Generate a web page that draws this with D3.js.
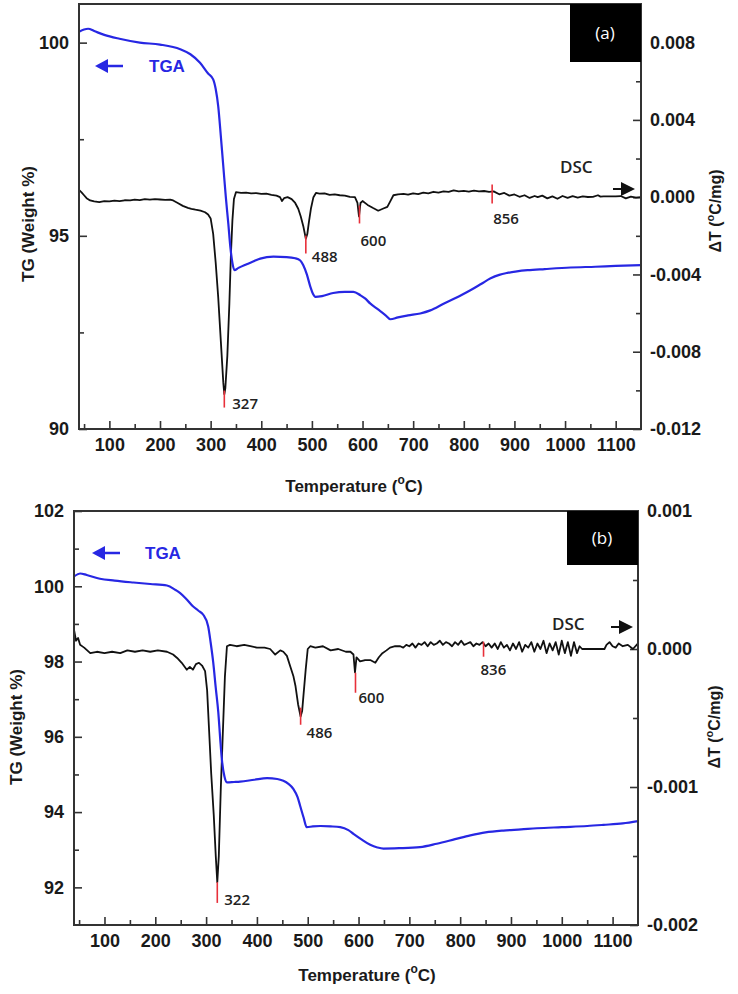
<!DOCTYPE html>
<html>
<head>
<meta charset="utf-8">
<script src="https://cdn.jsdelivr.net/npm/d3@7"></script>
<style>
  body { margin: 0; background: #fff; }
  svg { display: block; }
  .tick text { font-family: "Liberation Sans", Arial, sans-serif; font-weight: bold; font-size: 18px; fill: #1a1a1a; }
  .tick line { stroke: #333; stroke-width: 1.6; }
  .ttl { font-family: "Liberation Sans", Arial, sans-serif; font-weight: bold; fill: #1a1a1a; }
  .note { font-family: "Open Sans", sans-serif; font-weight: 600; fill: #222; }
</style>
</head>
<body>
<script>
// --- panel (a) data ---
const tgaA = [[40,100.28],[50,100.34],[58,100.36],[70,100.3],[90,100.2],[120,100.1],[160,100.0],[200,99.95],[240,99.83],[260,99.7],[279,99.48],[295,99.2],[305,99.05],[310,98.8],[315,98.35],[320,97.6],[325,96.8],[330,96.0],[335,95.3],[339,94.7],[343,94.3],[347,94.11],[355,94.17],[370,94.26],[385,94.34],[398,94.41],[424,94.46],[450,94.45],[467,94.42],[477,94.36],[483,94.24],[490,94.0],[497,93.68],[502,93.5],[507,93.42],[520,93.44],[542,93.52],[565,93.55],[582,93.55],[596,93.46],[605,93.38],[615,93.25],[630,93.1],[645,92.95],[655,92.84],[670,92.89],[690,92.94],[714,92.99],[734,93.07],[760,93.24],[790,93.43],[813,93.59],[835,93.76],[853,93.9],[870,93.99],[886,94.04],[905,94.08],[926,94.11],[960,94.14],[1011,94.18],[1060,94.2],[1100,94.22],[1150,94.24]];

const dscA = [[40,0.00038],[45,0.00025],[50,0.0001],[55,-0.00005],[62,-0.00017],[70,-0.00022],[80,-0.00026],[90,-0.0002],[100,-0.00022],[110,-0.00018],[120,-0.0002],[130,-0.00016],[141,-0.00017],[150,-0.00013],[160,-0.00015],[170,-0.0001],[180,-0.00013],[190,-0.0001],[200,-0.00012],[210,-0.00014],[220,-0.00013],[226,-0.00017],[235,-0.0003],[245,-0.00045],[255,-0.00055],[262,-0.0006],[270,-0.00065],[280,-0.0007],[289,-0.00078],[295,-0.0009],[300,-0.0011],[305,-0.0019],[310,-0.0034],[315,-0.0052],[320,-0.0074],[325,-0.0096],[327,-0.0102],[329,-0.0099],[333,-0.0082],[337,-0.0055],[340,-0.003],[343,-0.0012],[346,-0.0001],[350,0.00026],[360,0.00022],[370,0.00024],[380,0.0002],[390,0.00021],[400,0.00017],[410,0.00018],[420,0.00012],[430,0.00008],[437,0.0],[441,-0.0002],[445,-0.00005],[452,0.0],[460,-0.0001],[467,-0.0003],[473,-0.0006],[478,-0.001],[483,-0.0015],[488,-0.00215],[491,-0.0019],[494,-0.0013],[498,-0.0006],[503,0.0],[508,0.00022],[515,0.00018],[525,0.0002],[535,0.00012],[545,0.00015],[555,0.0001],[565,0.00008],[575,0.00002],[585,0.0],[590,-0.0003],[593,-0.001],[596,-0.0003],[600,-0.0002],[610,-0.0004],[620,-0.00055],[631,-0.0007],[640,-0.0006],[649,-0.0005],[655,-0.0002],[661,0.0001],[670,0.00015],[681,0.00017],[690,0.00013],[700,0.0002],[710,0.00016],[720,0.00024],[730,0.0002],[740,0.00028],[750,0.00024],[760,0.0003],[770,0.00027],[780,0.00035],[790,0.0003],[800,0.00033],[810,0.00029],[820,0.00034],[830,0.0003],[840,0.00032],[850,0.00028],[859,0.0003],[870,0.00015],[880,0.00022],[890,0.00008],[900,0.00014],[910,0.00002],[920,0.0001],[930,-0.00004],[940,0.00006],[946,0.0],[955,0.00008],[965,-0.00006],[975,0.00004],[985,-0.00008],[995,0.00006],[1005,-0.00004],[1015,0.00005],[1025,-0.00002],[1035,0.00004],[1045,0.00001],[1055,0.00002],[1065,0.0001],[1070,0.00003],[1076,0.00004],[1090,0.00004],[1100,0.00004],[1110,0.00006],[1120,-0.00006],[1130,0.00003],[1140,-0.00002],[1150,0.0]];

// peak marks: position, label, red tick top / bottom (dT units)
const peaksA = [[327,"327",-0.01001,-0.01089],[488,"488",-0.00198,-0.00291],[594,"600",-0.00043,-0.00136],[856,"856",0.00066,-0.00033]];
const tgTicksA = [90,95,100], tgMinorA = [92.5,97.5];
const dtTicksA = [-0.012,-0.008,-0.004,0,0.004,0.008], dtMinorA = [-0.010,-0.006,-0.002,0.002,0.006];

// --- panel (b) data ---
const tgaB = [[40,100.26],[52,100.34],[65,100.3],[91,100.2],[120,100.15],[157,100.1],[190,100.06],[223,100.02],[240,99.9],[249,99.82],[262,99.65],[274,99.47],[285,99.35],[294,99.25],[304,98.94],[309,98.5],[314,97.98],[319,97.3],[324,96.65],[328,95.9],[331,95.4],[336,94.95],[341,94.79],[355,94.8],[367,94.81],[395,94.86],[420,94.9],[440,94.88],[452,94.83],[462,94.75],[472,94.61],[480,94.4],[485,94.17],[492,93.85],[498,93.6],[510,93.62],[525,93.63],[545,93.62],[564,93.6],[580,93.52],[590,93.42],[605,93.28],[623,93.13],[637,93.06],[649,93.03],[680,93.04],[721,93.07],[754,93.16],[790,93.28],[820,93.38],[850,93.46],[885,93.51],[920,93.54],[951,93.57],[1000,93.6],[1050,93.63],[1082,93.66],[1120,93.7],[1150,93.76]];

const dscB = [[40,0.00014],[44,0.00006],[48,0.00008],[52,0.00003],[60,0.00001],[72,-0.00003],[85,-0.00002],[100,-0.00003],[115,-0.00002],[131,-0.00003],[145,-0.00001],[160,-0.00002],[175,-0.00001],[190,-0.00002],[205,-0.00001],[223,-0.00002],[235,-0.00004],[243,-0.000065],[252,-0.0001],[262,-0.00015],[268,-0.00013],[274,-0.00015],[280,-0.00011],[286,-0.0001],[292,-0.00012],[298,-0.00016],[302,-0.0003],[306,-0.0006],[310,-0.0009],[315,-0.0012],[319,-0.0015],[322,-0.00169],[325,-0.0015],[329,-0.001],[333,-0.0006],[337,-0.0002],[341,0.00002],[347,0.00003],[360,0.00002],[375,0.00003],[387,0.00002],[400,0.00001],[415,0.00001],[426,0.0],[436,-0.00004],[446,-0.00001],[452,-0.00002],[459,-0.00005],[466,-0.00013],[472,-0.0002],[476,-0.00027],[481,-0.0004],[486,-0.00049],[489,-0.00045],[492,-0.00032],[496,-0.00015],[500,0.0],[505,0.00002],[515,0.00001],[530,0.00002],[545,-0.00001],[560,0.0],[575,-0.00002],[584,-0.00002],[590,-0.00004],[593,-0.00017],[596,-0.00006],[603,-0.00009],[613,-0.00008],[623,-0.00008],[633,-0.0001],[640,-0.00006],[647,-0.00003],[655,-0.00001],[662,0.00001],[672,0.00002],[682,0.00002],[688,0.00001],[694,0.00003],[700,0.00002],[706,0.00004],[712,0.00001],[718,0.00004],[724,0.00003],[730,0.00005],[736,0.00002],[742,0.00005],[748,0.00003],[754,0.00004],[760,0.00006],[766,0.00003],[772,0.00005],[778,0.00004],[784,0.00002],[790,0.00005],[796,0.00003],[802,0.00006],[808,0.00003],[814,0.00004],[820,0.00005],[826,0.00002],[832,0.00004],[838,0.00003],[844,0.00005],[850,0.00002],[856,0.00004],[862,0.00001],[868,0.00004],[874,0.0],[880,0.00005],[886,0.00001],[892,0.00003],[898,-0.00001],[904,0.00004],[910,0.0],[916,0.00005],[922,-0.00002],[928,0.00003],[934,0.00001],[940,0.00005],[946,-0.00002],[952,0.00004],[958,0.0],[964,0.00006],[970,-0.00003],[976,0.00004],[982,-0.00001],[988,0.00005],[994,-0.00004],[1000,0.00006],[1006,-0.00003],[1012,0.00005],[1018,-0.00005],[1024,0.00005],[1030,-0.00003],[1035,0.00002],[1040,0.0],[1062,0.0],[1084,0.0],[1088,0.00003],[1094,0.00005],[1100,0.00002],[1106,0.00001],[1112,0.00004],[1120,0.00002],[1130,0.00003],[1140,0.0],[1150,0.00004]];

const peaksB = [[322,"322",-0.00169,-0.00184],[486,"486",-0.000425,-0.000549],[594,"600",-0.000172,-0.000317],[846,"836",0.000053,-0.000056]];
const tgTicksB = [92,94,96,98,100,102], tgMinorB = [93,95,97,99,101];
const dtTicksB = [-0.002,-0.001,0,0.001], dtMinorB = [-0.0015,-0.0005,0.0005];

const tempTicks = [100,200,300,400,500,600,700,800,900,1000,1100];
const tempMinor = [50,150,250,350,450,550,650,750,850,950,1050];

const svg = d3.select("body").append("svg").attr("width", 738).attr("height", 994);
svg.append("rect").attr("width", 738).attr("height", 994).attr("fill", "#fff");

const drawPanel = (p) => {
  const w = p.right - p.left, h = p.bottom - p.top;
  const g = svg.append("g").attr("transform", "translate(" + p.left + "," + p.top + ")");

  const x = d3.scaleLinear().domain([40, 1150]).range([0, w]);
  const yL = d3.scaleLinear().domain(p.tgDomain).range([h, 0]);
  const yR = d3.scaleLinear().domain(p.dtDomain).range([h, 0]);

  const fmt = (d) => d.toFixed(3);

  //major + minor ticks, all pointing inward
  const ax = (gen, tr) => {
    const a = g.append("g").attr("transform", tr).call(gen);
    a.select(".domain").remove();
    return a;
  };
  ax(d3.axisBottom(x).tickValues(tempTicks).tickSize(-8).tickPadding(9).tickFormat(d3.format("d")), "translate(0," + h + ")");
  ax(d3.axisBottom(x).tickValues(tempMinor).tickSize(-5).tickFormat(""), "translate(0," + h + ")");
  ax(d3.axisLeft(yL).tickValues(p.tgTicks).tickSize(-8).tickPadding(10).tickFormat(d3.format("d")), "translate(0,0)");
  ax(d3.axisLeft(yL).tickValues(p.tgMinor).tickSize(-5).tickFormat(""), "translate(0,0)");
  ax(d3.axisRight(yR).tickValues(p.dtTicks).tickSize(-8).tickPadding(9).tickFormat(fmt), "translate(" + w + ",0)");
  ax(d3.axisRight(yR).tickValues(p.dtMinor).tickSize(-5).tickFormat(""), "translate(" + w + ",0)");

  g.append("defs").append("clipPath").attr("id", "clip" + p.name)
    .append("rect").attr("width", w).attr("height", h);

  const plot = g.append("g").attr("clip-path", "url(#clip" + p.name + ")");

  plot.append("path").datum(p.dsc)
    .attr("fill", "none").attr("stroke", "#111").attr("stroke-width", 1.8)
    .attr("stroke-linejoin", "round")
    .attr("d", d3.line().x(d => x(d[0])).y(d => yR(d[1])));

  plot.append("path").datum(p.tga)
    .attr("fill", "none").attr("stroke", "#2727e3").attr("stroke-width", 2.2)
    .attr("d", d3.line().curve(d3.curveMonotoneX).x(d => x(d[0])).y(d => yL(d[1])));

  //red peak markers
  plot.selectAll(".pk").data(p.peaks).join("line")
    .attr("x1", d => x(d[0])).attr("x2", d => x(d[0]))
    .attr("y1", d => yR(d[2])).attr("y2", d => yR(d[3]))
    .attr("stroke", "#e8303a").attr("stroke-width", 1.6);

  g.selectAll(".pkl").data(p.peaks).join("text")
    .attr("class", "note").attr("font-size", 15)
    .attr("x", (d, i) => x(d[0]) + p.peakOff[i][0])
    .attr("y", (d, i) => yR(d[3]) + p.peakOff[i][1])
    .text(d => d[1]);

  //frame
  g.append("rect").attr("width", w).attr("height", h)
    .attr("fill", "none").attr("stroke", "#333").attr("stroke-width", 2);

  //panel tag
  g.append("rect").attr("x", w - 71).attr("y", 0).attr("width", 71).attr("height", p.tagH).attr("fill", "#000");
  g.append("text").attr("x", w - 36).attr("y", p.tagH / 2 + 6).attr("text-anchor", "middle")
    .attr("font-family", "Open Sans, sans-serif").attr("font-size", 17).attr("fill", "#fff").text(p.tag);

  //TGA arrow
  const t = p.tgaNote;
  g.append("line").attr("x1", t[0] + 10).attr("x2", t[0] + 28).attr("y1", t[1]).attr("y2", t[1])
    .attr("stroke", "#2727e3").attr("stroke-width", 2.5);
  g.append("path").attr("d", "M" + t[0] + "," + t[1] + "l13,-7v14z").attr("fill", "#2727e3");
  g.append("text").attr("class", "ttl").attr("font-size", 17)
    .style("fill", "#2727e3").attr("x", t[0] + t[2]).attr("y", t[1] + 6).text("TGA");

  //DSC arrow
  const s = p.dscNote;
  g.append("text").attr("class", "note").attr("font-size", 17).attr("x", s[0]).attr("y", s[1]).text("DSC");
  g.append("line").attr("x1", s[2]).attr("x2", s[2] + 12).attr("y1", s[3]).attr("y2", s[3])
    .attr("stroke", "#111").attr("stroke-width", 2);
  g.append("path").attr("d", "M" + (s[2] + 22) + "," + s[3] + "l-14,-7v14z").attr("fill", "#111");

  //axis titles
  const xt = g.append("text").attr("class", "ttl").attr("font-size", 17).attr("text-anchor", "middle")
    .attr("x", p.xTitle[0]).attr("y", p.xTitle[1]);
  xt.append("tspan").text("Temperature (");
  xt.append("tspan").attr("font-size", 12).attr("dy", -8).text("o");
  xt.append("tspan").attr("dy", 8).text("C)");

  g.append("text").attr("class", "ttl").attr("font-size", 17).attr("text-anchor", "middle")
    .attr("transform", "translate(" + p.yTitleL[0] + "," + p.yTitleL[1] + ") rotate(-90)")
    .text("TG (Weight %)");

  const yt = g.append("text").attr("class", "ttl").attr("font-size", 16).attr("text-anchor", "middle")
    .attr("transform", "translate(" + p.yTitleR[0] + "," + p.yTitleR[1] + ") rotate(-90)");
  yt.append("tspan").text("\u0394T (");
  yt.append("tspan").attr("font-size", 11).attr("dy", -7).text("o");
  yt.append("tspan").attr("dy", 7).text("C/mg)");
};

drawPanel({
  name: "a", left: 79, top: 4, right: 641, bottom: 429,
  tgDomain: [90, 101], dtDomain: [-0.012, 0.010],
  tgTicks: tgTicksA, tgMinor: tgMinorA, dtTicks: dtTicksA, dtMinor: dtMinorA,
  tga: tgaA, dsc: dscA, peaks: peaksA,
  peakOff: [[8, 1], [6, 9], [1, 23], [1, 20]],
  tag: "(a)", tagH: 58,
  tgaNote: [16, 62, 54], dscNote: [481, 169, 534, 185],
  xTitle: [275, 488], yTitleL: [-45, 220], yTitleR: [642, 207]
});

drawPanel({
  name: "b", left: 74, top: 511, right: 638, bottom: 925,
  tgDomain: [91, 102], dtDomain: [-0.002, 0.001],
  tgTicks: tgTicksB, tgMinor: tgMinorB, dtTicks: dtTicksB, dtMinor: dtMinorB,
  tga: tgaB, dsc: dscB, peaks: peaksB,
  peakOff: [[7, 2], [6, 13], [3, 10], [-3, 18]],
  tag: "(b)", tagH: 54,
  tgaNote: [18, 42, 53], dscNote: [478, 119, 537, 116],
  xTitle: [293, 470], yTitleL: [-52, 216], yTitleR: [646, 216]
});
</script>
</body>
</html>
